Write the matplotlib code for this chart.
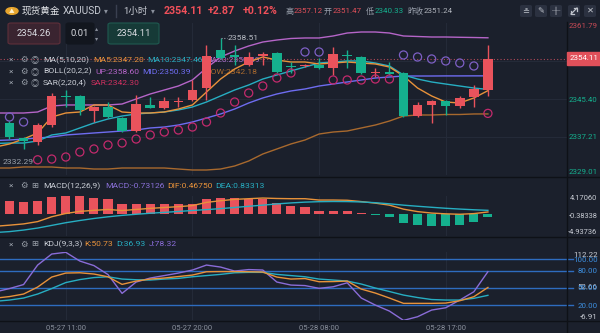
import matplotlib.pyplot as plt
from matplotlib.patches import FancyBboxPatch, Rectangle, Circle
from matplotlib.lines import Line2D

plt.rcParams['font.family'] = ['Roboto', 'Noto Sans CJK SC', 'DejaVu Sans']

# XAUUSD 1h bars, 05-27 07:00 -> 05-28 20:00
tick_pos = [4, 13, 22, 31]
tick_labels = ['05-27 11:00', '05-27 20:00', '05-28 08:00', '05-28 17:00']

opens = [2340.22, 2336.99, 2336.13, 2339.79, 2346.05, 2346.05, 2342.81, 2343.68, 2341.30, 2338.50,
         2344.11, 2343.46, 2344.65, 2345.19, 2347.77, 2355.97, 2354.89, 2352.73, 2354.78, 2355.32,
         2352.30, 2352.52, 2352.73, 2352.09, 2354.78, 2354.46, 2350.90, 2351.22, 2351.01, 2341.73,
         2344.11, 2344.97, 2343.89, 2345.84, 2347.34]
closes = [2337.21, 2336.34, 2339.79, 2346.05, 2345.84, 2343.03, 2343.68, 2341.52, 2338.50, 2344.32,
          2343.46, 2344.97, 2344.75, 2347.34, 2354.67, 2354.24, 2354.46, 2354.46, 2354.89, 2351.22,
          2352.20, 2352.73, 2352.09, 2355.10, 2354.67, 2351.01, 2351.01, 2350.79, 2341.73, 2344.11,
          2344.97, 2343.89, 2345.62, 2347.56, 2354.11]
highs = [2340.65, 2337.21, 2340.22, 2346.69, 2347.34, 2346.26, 2343.89, 2344.75, 2341.52, 2346.26,
         2345.84, 2345.84, 2345.84, 2349.50, 2357.05, 2358.51, 2357.05, 2355.54, 2355.54, 2355.54,
         2353.38, 2352.95, 2354.24, 2356.61, 2355.97, 2354.67, 2352.09, 2353.38, 2351.22, 2344.75,
         2345.19, 2345.19, 2346.05, 2348.42, 2357.12]
lows = [2336.77, 2334.62, 2335.48, 2339.36, 2343.68, 2341.95, 2340.44, 2341.30, 2338.28, 2338.28,
        2343.46, 2343.24, 2343.68, 2344.97, 2345.19, 2354.03, 2352.73, 2352.52, 2352.73, 2351.01,
        2351.01, 2352.40, 2351.87, 2350.58, 2352.09, 2350.79, 2350.14, 2350.58, 2341.52, 2341.52,
        2340.33, 2341.95, 2343.46, 2343.68, 2346.05]

# indicator lines: first value belongs to the bar just left of the window
ma5 = [2335.05, 2335.70, 2336.77, 2338.07, 2341.52, 2342.38, 2342.60, 2344.11, 2344.11, 2342.60, 2342.38,
       2342.38, 2342.60, 2343.24, 2344.11, 2346.91, 2349.71, 2351.87, 2353.38, 2354.46, 2353.81,
       2353.38, 2353.38, 2352.95, 2353.16, 2353.38, 2353.16, 2352.95, 2352.30, 2350.36, 2347.77,
       2346.05, 2344.75, 2344.54, 2345.62, 2347.20]
ma10 = [2335.80, 2335.91, 2335.91, 2336.34, 2337.64, 2338.07, 2339.15, 2340.22, 2341.09, 2341.73, 2342.17,
        2342.38, 2342.60, 2343.03, 2343.68, 2344.75, 2346.05, 2347.34, 2348.42, 2349.71, 2350.58,
        2351.44, 2352.30, 2353.16, 2353.38, 2353.60, 2353.60, 2353.16, 2352.52, 2350.58, 2349.71,
        2349.07, 2348.63, 2348.20, 2347.77, 2347.46]
boll_up = [2342.38, 2342.38, 2342.38, 2342.60, 2343.89, 2344.11, 2344.11, 2344.11, 2344.11, 2344.32, 2345.40,
           2346.48, 2347.34, 2348.20, 2349.50, 2352.09, 2354.46, 2355.75, 2356.83, 2357.69, 2358.12,
           2358.45, 2358.56, 2358.56, 2358.99, 2359.63, 2359.85, 2359.85, 2359.63, 2358.99, 2358.88,
           2358.77, 2358.77, 2358.71, 2358.66, 2358.60]
boll_mid = [2336.45, 2336.56, 2336.77, 2336.99, 2337.21, 2337.64, 2337.85, 2338.07, 2338.28, 2338.50, 2338.72,
            2339.15, 2339.36, 2339.79, 2340.44, 2341.30, 2342.17, 2343.24, 2344.54, 2345.62, 2346.48,
            2347.13, 2347.56, 2348.20, 2348.63, 2349.07, 2349.50, 2349.93, 2350.14, 2350.36, 2350.36,
            2350.36, 2350.38, 2350.38, 2350.39, 2350.39]
boll_low = [2330.52, 2330.52, 2330.74, 2330.74, 2330.74, 2330.52, 2330.52, 2330.30, 2330.30, 2330.52, 2330.52,
            2330.52, 2330.52, 2330.30, 2330.09, 2330.09, 2330.30, 2330.95, 2332.03, 2333.54, 2334.62,
            2335.70, 2336.56, 2337.85, 2338.28, 2338.50, 2339.15, 2339.79, 2340.65, 2341.73, 2341.95,
            2341.95, 2342.06, 2342.06, 2342.17, 2342.18]
sar = [2341.52, 2340.44, 2332.29, 2332.45, 2332.89, 2333.97, 2334.62, 2335.48, 2335.91, 2336.77,
       2337.64, 2338.28, 2338.72, 2339.36, 2340.44, 2342.38, 2344.75, 2346.69, 2348.20, 2349.93,
       2351.01, 2355.54, 2355.54, 2349.50, 2349.50, 2349.50, 2349.71, 2349.71, 2354.89, 2354.46,
       2354.03, 2353.60, 2353.16, 2352.52, 2342.30]

macd_hist = [2.91, 2.76, 2.91, 3.88, 4.17, 4.10, 3.66, 3.30, 2.18, 2.15,
             2.20, 2.18, 2.16, 2.22, 3.30, 3.52, 3.52, 3.36, 3.36, 2.40,
             1.86, 1.50, 0.70, 0.65, 0.60, 0.15, -0.15, -0.60, -1.95, -2.47,
             -2.62, -2.62, -2.47, -1.73, -0.73126]
dif = [-2.75, -2.50, -2.22, -1.70, -0.61, 0.13, 0.60, 0.83, 1.03, 0.79, 1.03,
       1.28, 1.47, 1.66, 1.90, 2.62, 3.00, 3.30, 3.45, 3.60, 3.50,
       3.45, 3.45, 3.15, 3.15, 3.10, 2.80, 2.45, 2.00, 1.10, 0.55,
       0.22, 0.05, -0.05, 0.10, 0.4675]
dea = [-4.15, -3.95, -3.60, -3.15, -2.55, -1.95, -1.45, -1.00, -0.62, -0.30, -0.05,
       0.18, 0.38, 0.58, 0.80, 1.00, 1.22, 1.48, 1.75, 2.00, 2.28,
       2.50, 2.68, 2.78, 2.82, 2.80, 2.72, 2.55, 2.30, 2.00, 1.75,
       1.52, 1.30, 1.12, 0.96, 0.833]

k_line = [32.0, 34.8, 39.2, 51.4, 68.9, 75.9, 76.4, 74.2, 69.4, 56.1, 61.9,
          65.4, 67.2, 69.8, 72.4, 78.2, 78.5, 78.5, 78.2, 77.7, 68.9,
          65.4, 66.3, 60.7, 61.0, 61.9, 47.9, 40.9, 32.2, 22.9, 22.9,
          22.9, 23.4, 27.5, 34.5, 50.73]
d_line = [26.5, 28.7, 32.2, 39.2, 48.8, 59.3, 64.5, 68.0, 69.4, 65.4, 64.2,
          63.7, 65.4, 66.6, 69.4, 71.5, 73.6, 76.4, 77.1, 77.1, 73.6,
          71.5, 69.4, 65.4, 63.7, 61.9, 56.7, 49.7, 43.6, 37.4, 33.1,
          29.6, 28.7, 28.7, 31.7, 36.93]
j_line = [43.0, 48.8, 55.8, 89.9, 109.2, 112.22, 96.9, 89.0, 73.3, 40.4, 60.2,
          67.2, 71.5, 75.9, 81.2, 89.9, 86.4, 79.4, 82.0, 81.2, 60.2,
          54.9, 54.0, 49.2, 51.9, 58.9, 32.2, 19.9, 9.4, -6.91, -0.5,
          11.2, 15.2, 28.7, 43.2, 78.32]
kdj_levels = [100, 80, 50, 20]

price_ticks = [2361.79, 2345.40, 2337.21, 2329.01]
macd_ticks = [4.17060, -0.38338, -4.93736]
kdj_ticks = [112.22, 100, 80, 52.66, 50, 20, -6.91]
last_price = 2354.11

# colours
BG = '#1b202c'
UP = '#e9535c'
DOWN = '#15b08e'
GRID = '#242a38'
SEP = '#0e1117'
C_MA5 = '#e8923a'
C_MA10 = '#27aec2'
C_BUP = '#b565c8'
C_BMID = '#6e6cf0'
C_BLOW = '#a8692e'
C_SAR_UP = '#c22a6c'
C_SAR_DN = '#7d5fc4'
C_J = '#8a6cd8'
C_LVL = '#2e6cbf'
TXT = '#c8ccd4'
DIM = '#8a909c'

W, H = 600, 333
X0, X1 = -0.675, 39.62
fig = plt.figure(figsize=(6, 3.33), dpi=100, facecolor=BG)


def fr(x, y):
    return x / W, 1 - y / H


def ptext(x, y, s, color, size=6.1, host=None, **kw):
    host = host or fig
    kw.setdefault('va', 'center')
    kw.setdefault('ha', 'left')
    return host.text(*fr(x, y), s, color=color, fontsize=size,
                     transform=fig.transFigure, **kw)


def panel(top, bottom, label_size=5.7):
    a = fig.add_axes([0, 1 - bottom / H, 567 / W, (bottom - top) / H])
    a.set_facecolor('none')
    for s in a.spines.values():
        s.set_visible(False)
    a.set_xlim(X0, X1)
    a.set_xticks([])
    a.yaxis.tick_right()
    # right-aligned value labels ending near the figure edge
    a.tick_params(axis='y', length=0, labelsize=label_size, pad=22.0, colors=TXT)
    for t in tick_pos:
        a.axvline(t, color=GRID, lw=0.8, zorder=0)
    return a


def finish_ticks(a, ticks, fmt, colors=None):
    a.set_yticks(ticks)
    a.set_yticklabels([fmt.format(v) for v in ticks])
    labels = a.get_yticklabels()
    for n, lbl in enumerate(labels):
        lbl.set_ha('right')
        if colors:
            lbl.set_color(colors[n])
    labels[0].set_va('top')
    labels[-1].set_va('bottom')


idx = list(range(len(opens)))
lidx = list(range(-1, len(opens)))

# ---------------- main price panel ----------------
ax = panel(23, 175)
ax.set_ylim(2329.01, 2361.79)
for p in [2353.595, 2345.40, 2337.21]:
    ax.axhline(p, color=GRID, lw=0.8, zorder=0)

ax.plot(lidx, boll_up, color=C_BUP, lw=1.0, zorder=2)
ax.plot(lidx, boll_mid, color=C_BMID, lw=1.0, zorder=2)
ax.plot(lidx, boll_low, color=C_BLOW, lw=1.0, zorder=2)
ax.plot(lidx, ma10, color=C_MA10, lw=1.0, zorder=2)
ax.plot(lidx, ma5, color=C_MA5, lw=1.0, zorder=2)

for i, o, h, l, c in zip(idx, opens, highs, lows, closes):
    col = UP if c >= o else DOWN
    ax.vlines(i, l, h, color=col, lw=1.0, zorder=3)
    ax.bar(i, max(abs(c - o), 0.22), bottom=min(o, c), width=0.68, color=col, zorder=3)

sar_cols = [C_SAR_DN if s > c else C_SAR_UP for s, c in zip(sar, closes)]
ax.scatter(idx, sar, s=34, facecolors='none', edgecolors=sar_cols, linewidths=0.9, zorder=4)

ax.axhline(last_price, color='#b04858', lw=0.8, ls=(0, (1, 2)), zorder=1)

# high / low markers
hi_i = highs.index(max(highs))
ax.plot([hi_i, hi_i + 0.45], [max(highs)] * 2, color='#9aa0aa', lw=0.8, ls=(0, (1, 1.5)), zorder=3)
ax.text(hi_i + 0.5, max(highs), f'{max(highs):.2f}', color='#b8bcc4', fontsize=6.1, va='center', zorder=3)
ax.text(X0 + 0.2, sar[2] - 0.4, '2332.29', color='#9aa0aa', fontsize=6.1, va='center', zorder=3)

finish_ticks(ax, price_ticks, '{:.2f}', ['#c64a55', DOWN, DOWN, DOWN])

# last price tag
fig.patches.append(Rectangle(fr(567, 65), 33 / W, 13 / H, transform=fig.transFigure,
                             color='#e0505a', zorder=5))
ptext(598, 58.5, f'{last_price:.2f}', 'white', size=5.7, ha='right', zorder=6)

# ---------------- MACD panel ----------------
axm = panel(195.5, 236, label_size=5.4)
axm.set_ylim(-4.93736, 4.17060)
axm.bar(idx, macd_hist, width=0.65,
        color=[UP if v >= 0 else DOWN for v in macd_hist], zorder=2)
axm.plot(lidx, dif, color=C_MA5, lw=1.0, zorder=3)
axm.plot(lidx, dea, color=C_MA10, lw=1.0, zorder=3)
finish_ticks(axm, macd_ticks, '{:.5f}')

# ---------------- KDJ panel ----------------
axk = panel(252.3, 320.4)
axk.set_ylim(-6.91, 112.22)
for lv in kdj_levels:
    axk.axhline(lv, xmax=573 / 567, color=C_LVL, lw=1.0, clip_on=False, zorder=1)
axk.plot(lidx, j_line, color=C_J, lw=1.0, zorder=2)
axk.plot(lidx, d_line, color=C_MA10, lw=1.0, zorder=2)
axk.plot(lidx, k_line, color=C_MA5, lw=1.0, zorder=2)
finish_ticks(axk, kdj_ticks, '{:.2f}',
             ['#3d8fe0' if v in kdj_levels else TXT for v in kdj_ticks])
axk.set_xticks(tick_pos)
axk.set_xticklabels(tick_labels)
axk.tick_params(axis='x', length=0, colors=DIM, labelsize=5.5, pad=3)

# ---------------- separators ----------------
for y in [176.5, 236.8, 320.6]:
    fig.lines.append(Line2D([0, 1], [1 - y / H] * 2, transform=fig.transFigure, color=SEP, lw=1.0))
fig.lines.append(Line2D([567 / W] * 2, [0, 1 - 22 / H], transform=fig.transFigure, color=SEP, lw=1.0))

# ---------------- header ----------------
fig.patches.append(Circle(fr(12, 11), 6 / W, transform=fig.transFigure, color='#e8a62e'))
ptext(12, 11.5, '▲', '#fff3d0', size=4, ha='center')
ptext(22, 11, '现货黄金', '#e6e8ec', size=6.9)
ptext(63, 11, 'XAUUSD', TXT, size=7.3)
ptext(104, 11, '▾', DIM, size=5.5)
fig.lines.append(Line2D([116 / W] * 2, [1 - 5 / H, 1 - 17 / H], transform=fig.transFigure, color='#3a4050', lw=1))
ptext(123, 11, '1小时', TXT, size=6.8)
ptext(151, 11, '▾', DIM, size=5.5)
ptext(164, 11, '2354.11', '#f0505a', size=7.7, weight='bold')
ptext(208, 11, '+2.87', '#f0505a', size=7.7, weight='bold')
ptext(243, 11, '+0.12%', '#f0505a', size=7.7, weight='bold')
for x, s, col in [(285, '高', '#9aa0ac'), (294, '2357.12', '#e0505a'),
                  (324, '开', '#9aa0ac'), (333, '2351.47', '#e0505a'),
                  (366, '低', '#9aa0ac'), (375, '2340.33', DOWN),
                  (407, '昨收', '#9aa0ac'), (424, '2351.24', '#b0b4bc')]:
    ptext(x, 11, s, col, size=5.8)

for x0, glyph in zip([520, 535, 550, 568, 584], ['≗', '✎', '╫', '', '✕']):
    fig.patches.append(FancyBboxPatch(fr(x0, 17), 12 / W, 12 / H, transform=fig.transFigure,
                                      boxstyle='round,pad=0,rounding_size=0.004', fc='#2b3140', ec='none'))
    if glyph:
        ptext(x0 + 6, 11, glyph, '#c0c4cc', size=6, ha='center')
# expand icon: diagonal double arrow
fig.lines.append(Line2D([571 / W, 577 / W], [1 - 14 / H, 1 - 8 / H], transform=fig.transFigure,
                        color='#c0c4cc', lw=0.9))
for (xa, ya), (xb, yb), (xc, yc) in [((571, 11), (571, 14), (574, 14)), ((574, 8), (577, 8), (577, 11))]:
    fig.lines.append(Line2D([xa / W, xb / W, xc / W], [1 - ya / H, 1 - yb / H, 1 - yc / H],
                            transform=fig.transFigure, color='#c0c4cc', lw=0.9))

# order entry boxes
for x0, x1, fc, ec, s in [(8, 60, '#3a2430', '#5e2f3a', '2354.26'),
                          (66, 94, '#12161e', '#12161e', '0.01'),
                          (108, 159, '#163a37', '#1f5a50', '2354.11')]:
    fig.patches.append(FancyBboxPatch(fr(x0, 44), (x1 - x0) / W, 21 / H, transform=fig.transFigure,
                                      boxstyle='round,pad=0,rounding_size=0.005', fc=fc, ec=ec, lw=0.8,
                                      zorder=5))
    ptext((x0 + x1) / 2, 34, s, '#d8dae0', size=6.8, ha='center', zorder=6)
ptext(97, 29, '▴', DIM, size=4.5, ha='center', zorder=6)
ptext(97, 39, '▾', DIM, size=4.5, ha='center', zorder=6)

# indicator legends (drawn beneath the candles)
rows = [
    (60, [('MA(5,10,20)', TXT, 43), ('MA5:2347.20', C_MA5, 93), ('MA10:2347.46', C_MA10, 147),
          ('MA20:2350.39', '#b070d0', 204)]),
    (71.5, [('BOLL(20,2,2)', TXT, 43), ('UP:2358.60', C_BUP, 95), ('MID:2350.39', C_BMID, 142),
            ('LOW:2342.18', C_BLOW, 206)]),
    (83, [('SAR(2,20,4)', TXT, 43), ('SAR:2342.30', '#d03060', 91)]),
]
for y, items in rows:
    for x, g in [(9, '×'), (20, '⚙'), (31, '◎')]:
        ptext(x, y, g, '#9aa0aa', size=6, host=ax, zorder=1)
    for s, col, x in items:
        ptext(x, y, s, col, host=ax, zorder=1)

for y, items in [(186, [('MACD(12,26,9)', TXT, 43), ('MACD:-0.73126', '#8a70d8', 105),
                        ('DIF:0.46750', C_MA5, 167), ('DEA:0.83313', C_MA10, 215)]),
                 (244.5, [('KDJ(9,3,3)', TXT, 43), ('K:50.73', C_MA5, 84),
                          ('D:36.93', C_MA10, 116), ('J:78.32', C_J, 149)])]:
    for x, g in [(9, '×'), (20, '⚙'), (31, '⊞')]:
        ptext(x, y, g, '#9aa0aa', size=6)
    for s, col, x in items:
        ptext(x, y, s, col)

fig.savefig('out.png', dpi=100, facecolor=BG)
